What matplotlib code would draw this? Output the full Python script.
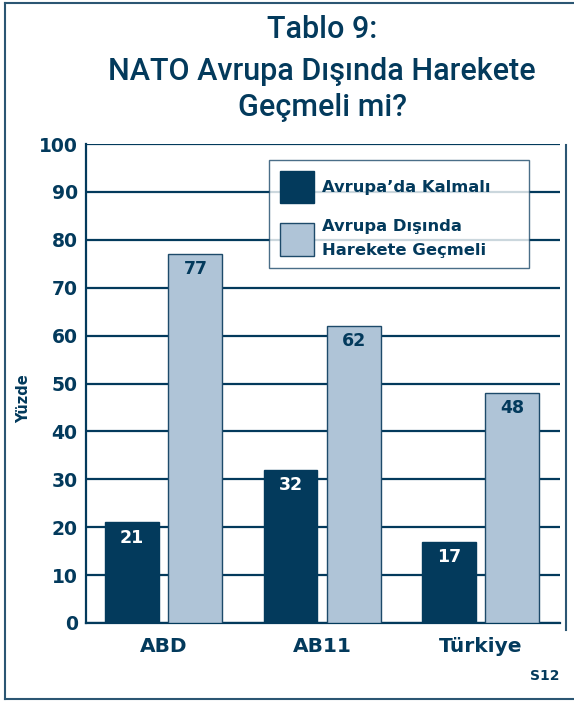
import matplotlib.pyplot as plt
from matplotlib.lines import Line2D

groups = ['ABD', 'AB11', 'Türkiye']
kalmali = [21, 32, 17]
disinda = [77, 62, 48]
series_names = ['Avrupa’da Kalmalı', 'Avrupa Dışında\nHarekete Geçmeli']
yticks = [0, 10, 20, 30, 40, 50, 60, 70, 80, 90, 100]

navy = '#033a5c'
light = '#afc4d7'
W, H = 574, 702
bold_font = 'DejaVu Sans'

fig = plt.figure(figsize=(W / 100, H / 100), dpi=100)
ax = fig.add_axes([86 / W, 1 - 623 / H, (560 - 86) / W, (623 - 144) / H])

x = range(len(groups))
bw = 0.34
b1 = ax.bar([i - 0.2 for i in x], kalmali, bw, color=navy, edgecolor=navy, lw=1, zorder=3,
            label=series_names[0])
b2 = ax.bar([i + 0.2 for i in x], disinda, bw, color=light, edgecolor='#1d4a6a', lw=1, zorder=3,
            label=series_names[1])

for rect, v in zip(b1, kalmali):
    ax.text(rect.get_x() + rect.get_width() / 2, v - 1.3, str(v), ha='center', va='top',
            color='white', fontsize=12.5, fontweight='bold', family=bold_font, zorder=4)
for rect, v in zip(b2, disinda):
    ax.text(rect.get_x() + rect.get_width() / 2, v - 1.3, str(v), ha='center', va='top',
            color=navy, fontsize=12.5, fontweight='bold', family=bold_font, zorder=4)

ax.set_xlim(-0.49, 2.5)
ax.set_ylim(0, 100)
ax.set_yticks(yticks)
ax.set_xticks(list(x))
ax.set_xticklabels(groups)
ax.yaxis.grid(True, color=navy, lw=1.6, zorder=0)
ax.set_axisbelow(True)
for s in ['top', 'right']:
    ax.spines[s].set_visible(False)
for s in ['left', 'bottom']:
    ax.spines[s].set_color(navy)
    ax.spines[s].set_linewidth(1.6)
ax.tick_params(length=0, colors=navy)
ax.tick_params(axis='y', pad=6)
ax.tick_params(axis='x', pad=10)
for lab in ax.get_yticklabels():
    lab.set_fontweight('bold')
    lab.set_fontsize(13.5)
    lab.set_family(bold_font)
for lab in ax.get_xticklabels():
    lab.set_fontweight('bold')
    lab.set_fontsize(14.5)
    lab.set_family(bold_font)
ax.set_ylabel('Yüzde', fontsize=10.5, fontweight='bold', color=navy, family=bold_font)
ax.yaxis.set_label_coords(-0.116, 0.468)

# legend box spans x 269..529 px, top at 160 px
leg = ax.legend(loc='upper left', mode='expand',
                bbox_to_anchor=(269 / W, 1 - 271 / H, 260 / W, 111 / H),
                bbox_transform=fig.transFigure, frameon=True, fancybox=False,
                prop={'family': bold_font, 'weight': 'bold', 'size': 11.8},
                handlelength=2.1, handleheight=2.65, labelspacing=1.0, borderpad=0.65,
                handletextpad=0.5, borderaxespad=0)
leg.get_frame().set_edgecolor('#1d4a6a')
leg.get_frame().set_linewidth(1)
leg.set_zorder(5)
for t in leg.get_texts():
    t.set_color(navy)
    t.set_linespacing(1.7)

fig.text(322 / W, 1 - 30 / H, 'Tablo 9:', ha='center', va='center', fontsize=22,
         color=navy, family='Roboto', fontweight='medium')
fig.text(322 / W, 1 - 72 / H, 'NATO Avrupa Dışında Harekete', ha='center', va='center',
         fontsize=22, color=navy, family='Roboto', fontweight='medium')
fig.text(322 / W, 1 - 108 / H, 'Geçmeli mi?', ha='center', va='center', fontsize=22,
         color=navy, family='Roboto', fontweight='medium')
fig.text(545 / W, 1 - 676 / H, 'S12', ha='center', va='center', fontsize=10,
         color=navy, fontweight='bold', family=bold_font)

# outer frame
fc = '#2b5673'
fig.add_artist(Line2D([5 / W, 1], [1 - 3 / H, 1 - 3 / H], color=fc, lw=1.5))
fig.add_artist(Line2D([5 / W, 1], [1 - 699 / H, 1 - 699 / H], color=fc, lw=1.5))
fig.add_artist(Line2D([5 / W, 5 / W], [1 - 3 / H, 1 - 699 / H], color=fc, lw=1.5))
fig.add_artist(Line2D([566 / W, 566 / W], [1 - 145 / H, 1 - 630 / H], color=fc, lw=1.5))

fig.savefig('out.png', dpi=100)
